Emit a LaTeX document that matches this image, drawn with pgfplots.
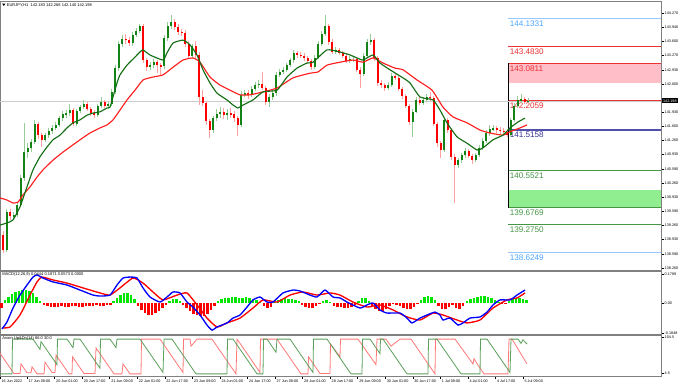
\documentclass[border=0pt]{standalone}
\usepackage{fontspec}
\setmainfont{Liberation Sans}
\usepackage{pgfplots}
\usepackage{pgfplotstable}
\pgfplotsset{compat=1.18}
\definecolor{mtgray}{RGB}{128,128,128}
\definecolor{bullbody}{RGB}{20,130,20}
\definecolor{bullwick}{RGB}{150,205,150}
\definecolor{bearbody}{RGB}{255,0,0}
\definecolor{bearwick}{RGB}{255,160,160}
\definecolor{magreen}{RGB}{20,110,20}
\definecolor{mared}{RGB}{255,30,30}
\definecolor{lvlbluet}{RGB}{77,166,255}
\definecolor{lvlbluel}{RGB}{150,200,255}
\definecolor{lvlred}{RGB}{235,50,50}
\definecolor{pinkband}{RGB}{255,190,200}
\definecolor{navyl}{RGB}{80,80,170}
\definecolor{navyt}{RGB}{50,50,150}
\definecolor{lvlgreen}{RGB}{70,150,70}
\definecolor{greenband}{RGB}{144,238,144}
\definecolor{aroongreen}{RGB}{90,160,90}
\definecolor{aroonred}{RGB}{255,120,120}
\definecolor{macdblue}{RGB}{0,0,255}
\definecolor{histgreen}{RGB}{0,230,0}
\newcommand{\tf}{\fontsize{2.8}{3.2}\selectfont}
\newcommand{\lf}{\fontsize{6.1}{7}\selectfont}

\pgfplotstableread{
x o h l c
3.2 139.04 139.12 138.61 138.68
6.8 138.68 139.66 138.64 139.58
10.2 139.58 139.64 139.40 139.48
13.8 139.48 139.58 139.40 139.51
17.2 139.51 139.80 139.46 139.74
20.8 139.74 140.45 139.70 140.38
24.2 140.38 141.68 140.30 140.99
27.8 140.99 141.20 140.85 141.09
31.2 141.09 141.30 141.00 141.23
34.8 141.23 141.75 141.18 141.65
38.2 141.65 141.70 141.30 141.39
41.8 141.39 141.45 141.10 141.28
45.2 141.28 141.45 141.22 141.39
48.8 141.39 141.55 141.32 141.49
52.2 141.49 141.62 141.42 141.56
55.8 141.56 141.70 141.50 141.63
59.2 141.63 141.85 141.58 141.79
62.8 141.79 141.95 141.72 141.89
66.2 141.89 141.98 141.80 141.91
69.8 141.91 142.12 141.85 141.98
73.2 141.98 142.02 141.60 141.65
76.8 141.65 142.00 141.60 141.96
80.2 141.96 142.10 141.90 142.05
83.8 142.05 142.22 142.00 142.12
87.2 142.12 142.18 141.95 142.01
90.8 142.01 142.06 141.85 141.91
94.2 141.91 141.98 141.80 141.86
97.8 141.86 142.12 141.82 142.08
101.2 142.08 142.30 142.02 142.17
104.8 142.17 142.22 142.02 142.08
108.2 142.08 142.18 142.00 142.12
111.8 142.12 142.48 142.08 142.41
115.2 142.41 143.05 142.36 142.97
118.8 142.97 143.62 142.90 143.54
122.2 143.54 143.75 143.48 143.66
125.8 143.66 143.78 143.55 143.63
129.2 143.63 143.70 143.48 143.56
132.8 143.56 143.82 143.50 143.75
136.2 143.75 143.92 143.70 143.85
139.8 143.85 144.02 143.80 143.96
143.2 143.96 144.00 143.10 143.16
146.8 143.16 143.22 142.90 142.99
150.2 142.99 143.12 142.92 143.04
153.8 143.04 143.18 142.98 143.11
157.2 143.11 143.15 142.85 143.04
160.8 143.04 143.10 142.80 143.02
164.2 143.02 143.75 142.96 143.68
167.8 143.68 144.05 143.62 143.96
171.2 143.96 144.22 143.90 144.06
174.8 144.06 144.12 143.88 143.94
178.2 143.94 144.00 143.76 143.82
181.8 143.82 143.90 143.74 143.80
185.2 143.80 143.86 143.48 143.54
188.8 143.54 143.60 143.20 143.26
192.2 143.26 143.55 143.20 143.49
195.8 143.49 143.62 143.22 143.28
199.2 143.28 143.34 142.10 142.29
202.8 142.29 142.45 142.08 142.15
206.2 142.15 142.20 141.62 141.72
209.8 141.72 141.78 141.32 141.51
213.2 141.51 141.85 141.45 141.79
216.8 141.79 142.00 141.72 141.89
220.2 141.89 142.05 141.80 141.94
223.8 141.94 142.02 141.78 141.86
227.2 141.86 142.00 141.75 141.91
230.8 141.91 142.02 141.80 141.89
234.2 141.89 141.95 141.70 141.79
237.8 141.79 141.85 141.38 141.63
241.2 141.63 142.42 141.58 142.34
244.8 142.34 142.45 142.28 142.38
248.2 142.38 142.45 142.25 142.36
251.8 142.36 142.55 142.30 142.48
255.2 142.48 142.65 142.42 142.57
258.8 142.57 142.68 142.50 142.60
262.2 142.60 142.88 142.45 142.50
265.8 142.50 142.56 142.10 142.17
269.2 142.17 142.35 142.05 142.29
272.8 142.29 142.45 142.22 142.38
276.2 142.38 142.88 142.32 142.81
279.8 142.81 142.95 142.75 142.88
283.2 142.88 143.00 142.82 142.93
286.8 142.93 143.10 142.88 143.04
290.2 143.04 143.22 143.00 143.16
293.8 143.16 143.40 143.10 143.33
297.2 143.33 143.38 143.22 143.28
300.8 143.28 143.35 143.20 143.26
304.2 143.26 143.32 143.15 143.21
307.8 143.21 143.26 143.08 143.14
311.2 143.14 143.18 142.92 142.99
314.8 142.99 143.28 142.95 143.21
318.2 143.21 143.60 143.18 143.54
321.8 143.54 143.85 143.50 143.77
325.2 143.77 144.22 143.72 143.96
328.8 143.96 144.02 143.52 143.59
332.2 143.59 143.65 143.30 143.35
335.8 143.35 143.46 143.30 143.40
339.2 143.40 143.45 143.28 143.33
342.8 143.33 143.38 143.20 143.26
346.2 143.26 143.30 143.08 143.14
349.8 143.14 143.25 143.10 143.19
353.2 143.19 143.26 143.12 143.19
356.8 143.19 143.22 142.88 142.93
360.2 142.93 143.00 142.50 142.83
363.8 142.83 143.32 142.78 143.26
367.2 143.26 143.66 143.20 143.59
370.8 143.59 143.78 143.52 143.63
374.2 143.63 143.68 143.15 143.21
377.8 143.21 143.26 142.55 142.62
381.2 142.62 142.70 142.50 142.57
384.8 142.57 142.62 142.42 142.50
388.2 142.50 142.64 142.45 142.57
391.8 142.57 142.85 142.52 142.78
395.2 142.78 142.84 142.68 142.74
398.8 142.74 142.78 142.42 142.48
402.2 142.48 142.52 142.25 142.31
405.8 142.31 142.36 142.02 142.08
409.2 142.08 142.12 141.62 141.70
412.8 141.70 142.00 141.35 141.94
416.2 141.94 142.28 141.90 142.22
419.8 142.22 142.30 142.10 142.15
423.2 142.15 142.28 142.10 142.22
426.8 142.22 142.35 142.18 142.29
430.2 142.29 142.40 142.20 142.27
433.8 142.27 142.32 141.60 141.65
437.2 141.65 141.70 141.12 141.20
440.8 141.20 141.25 140.85 141.04
444.2 141.04 141.80 141.00 141.75
447.8 141.75 141.80 141.45 141.51
451.2 141.51 141.55 140.80 140.87
454.8 140.87 140.95 139.79 140.69
458.2 140.69 140.86 140.62 140.80
461.8 140.80 140.98 140.74 140.92
465.2 140.92 141.08 140.86 141.02
468.8 141.02 141.06 140.84 140.90
472.2 140.90 140.95 140.72 140.80
475.8 140.80 140.98 140.75 140.92
479.2 140.92 141.15 140.88 141.09
482.8 141.09 141.32 141.05 141.25
486.2 141.25 141.50 141.20 141.44
489.8 141.44 141.62 141.38 141.53
493.2 141.53 141.62 141.48 141.56
496.8 141.56 141.60 141.45 141.51
500.2 141.51 141.58 141.42 141.49
503.8 141.49 141.55 141.40 141.47
507.2 141.47 141.52 141.34 141.39
510.8 141.39 141.80 141.35 141.75
514.2 141.75 142.15 141.70 142.08
517.8 142.08 142.32 142.02 142.22
521.2 142.22 142.36 142.15 142.24
524.8 142.24 142.30 142.12 142.18
528.2 142.18 142.27 142.14 142.20
}\candles

\pgfplotstableread{
x p
0 139.27
7 139.32
13 139.39
20 139.70
27 140.17
33 140.57
40 140.88
47 141.11
53 141.28
60 141.39
67 141.56
73 141.68
80 141.75
87 141.86
93 141.91
100 141.94
107 142.03
110 142.05
113 142.29
117 142.62
120 142.81
127 143.04
135 143.23
140 143.35
143 143.40
150 143.28
163 143.16
167 143.33
173 143.56
183 143.63
190 143.52
197 143.28
203 142.93
210 142.62
217 142.38
227 142.22
233 142.10
238 142.03
243 142.10
253 142.22
263 142.41
277 142.45
287 142.76
297 142.97
307 143.09
313 143.11
327 143.40
340 143.35
350 143.28
357 143.21
363 143.16
373 143.28
380 143.09
390 142.93
403 142.74
410 142.62
420 142.29
433 142.22
440 141.98
447 141.68
457 141.35
467 141.20
477 141.04
483 141.09
493 141.28
503 141.39
510 141.56
518 141.70
525 141.79
}\mafast

\pgfplotstableread{
x p
0 139.91
7 139.86
13 139.79
18 139.81
23 139.98
30 140.17
37 140.40
43 140.57
53 140.80
63 140.99
70 141.11
80 141.28
90 141.44
100 141.56
107 141.63
113 141.75
120 141.98
127 142.22
135 142.45
143 142.69
153 142.76
163 142.81
173 142.99
183 143.16
193 143.21
200 143.11
210 142.76
220 142.57
230 142.45
240 142.34
250 142.34
263 142.41
277 142.50
293 142.74
310 142.85
318 142.88
327 143.04
340 143.11
353 143.16
363 143.11
373 143.21
383 143.09
395 142.97
403 142.93
417 142.69
432 142.45
443 142.05
453 141.82
467 141.68
480 141.51
490 141.44
503 141.39
510 141.47
520 141.56
527 141.63
}\maslow

\pgfplotstableread{
x v
2 -0.160
7 -0.117
13 -0.031
20 0.049
27 0.111
33 0.160
37 0.173
43 0.154
53 0.130
67 0.111
80 0.080
93 0.049
100 0.043
110 0.049
117 0.111
123 0.154
130 0.160
137 0.154
143 0.093
150 0.037
160 0.006
167 0.037
173 0.068
180 0.062
187 0.006
193 -0.025
200 -0.074
207 -0.136
212 -0.167
217 -0.148
227 -0.123
233 -0.093
240 -0.074
247 -0.025
253 0.019
260 0.037
267 0.006
273 0.006
283 0.062
293 0.080
300 0.074
310 0.049
317 0.037
325 0.080
333 0.037
340 0.031
347 0.006
360 -0.031
367 -0.012
373 0.000
380 -0.043
387 -0.062
400 -0.062
407 -0.093
412 -0.123
420 -0.093
427 -0.074
435 -0.056
440 -0.074
443 -0.105
450 -0.093
458 -0.136
463 -0.123
470 -0.093
480 -0.086
487 -0.056
493 -0.012
500 0.019
510 0.019
517 0.049
525 0.080
}\macdmain

\pgfplotstableread{
x v
2 -0.154
10 -0.148
20 -0.074
30 0.049
37 0.130
42 0.160
53 0.142
67 0.123
83 0.093
100 0.062
110 0.049
120 0.093
133 0.154
143 0.123
153 0.068
163 0.019
177 0.049
187 0.062
197 -0.012
207 -0.093
217 -0.148
227 -0.123
240 -0.093
253 -0.031
263 0.019
277 0.006
290 0.049
303 0.068
317 0.049
330 0.062
340 0.049
353 0.006
367 -0.025
380 -0.012
393 -0.043
407 -0.086
420 -0.105
433 -0.062
443 -0.074
457 -0.105
467 -0.123
480 -0.105
493 -0.031
507 0.019
517 0.031
525 0.062
}\macdsig

\pgfplotstableread{
x v
5 0.019
8.5 0.037
12 0.056
15.5 0.068
19 0.074
22.5 0.080
26 0.080
29.5 0.074
33 0.062
36.5 0.037
40 0.012
113.5 0.012
117 0.031
120.5 0.049
124 0.062
127.5 0.062
131 0.049
134.5 0.025
169.5 0.012
173 0.025
176.5 0.025
180 0.012
218 0.012
221.5 0.025
225 0.031
228.5 0.031
232 0.037
235.5 0.037
239 0.031
242.5 0.031
246 0.037
249.5 0.031
253 0.025
256.5 0.019
260 0.006
274.5 0.006
278 0.019
281.5 0.025
285 0.031
288.5 0.025
292 0.025
295.5 0.019
299 0.012
323 0.012
326.5 0.019
330 0.006
358.5 0.012
362 0.031
365.5 0.031
369 0.012
421 0.019
424.5 0.037
428 0.043
431.5 0.037
435 0.019
467 0.012
470.5 0.025
474 0.031
477.5 0.037
481 0.043
484.5 0.043
488 0.037
491.5 0.031
495 0.019
498.5 0.006
509 0.012
512.5 0.025
516 0.031
519.5 0.031
523 0.025
526.5 0.019
}\histpos

\pgfplotstableread{
x v
1.5 -0.031
44 -0.012
47.5 -0.019
51 -0.025
54.5 -0.025
58 -0.025
61.5 -0.019
65 -0.025
68.5 -0.025
72 -0.019
75.5 -0.019
79 -0.025
82.5 -0.025
86 -0.019
89.5 -0.019
93 -0.019
96.5 -0.012
100 -0.019
103.5 -0.019
107 -0.012
110.5 -0.012
138 -0.019
141.5 -0.043
145 -0.062
148.5 -0.074
152 -0.074
155.5 -0.062
159 -0.049
162.5 -0.031
166 -0.012
183 -0.012
186.5 -0.031
190 -0.049
193.5 -0.068
197 -0.074
200.5 -0.080
204 -0.080
207.5 -0.068
211 -0.043
214.5 -0.019
264 -0.019
267.5 -0.031
271 -0.025
302 -0.012
305.5 -0.025
309 -0.031
312.5 -0.031
316 -0.019
319.5 -0.006
334 -0.019
337.5 -0.025
341 -0.025
344.5 -0.031
348 -0.031
351.5 -0.025
355 -0.012
372 -0.019
375.5 -0.037
379 -0.049
382.5 -0.049
386 -0.037
389.5 -0.019
393 -0.006
396.5 -0.012
400 -0.019
403.5 -0.031
407 -0.037
410.5 -0.037
414 -0.025
417.5 -0.006
438.5 -0.019
442 -0.037
445.5 -0.037
449 -0.025
452.5 -0.012
456 -0.031
459.5 -0.037
463 -0.019
502 -0.006
505.5 -0.006
}\histneg

\pgfplotstableread{
x v
0 2
12 2
12.5 100
33 100
40 71
41 93
57 28
57.5 100
67 100
73 76
74 100
80 100
100 18
100.5 100
110 100
116 76
117 100
140 100
163 6
164 100
172 100
196 2
227 2
227.5 100
233 100
257 2
263 2
263.5 100
267 100
276 63
277 100
290 100
313 6
313.5 100
327 100
351 2
362 2
362.5 100
370 100
380 59
380.5 100
383 100
407 2
428 2
428.5 100
437 100
461 2
480 2
480.5 100
487 100
510 6
511 100
518 100
521 88
523 98
527 86
}\aroonup

\pgfplotstableread{
x v
0 60
14 3
20 3
21 30
27 5
31 5
32 22
37 2
44 2
45 35
52 6
55 6
56 55
69 2
72 2
72.5 50
84 3
95 3
96 75
114 2
122 2
123 30
130 2
141 2
141.5 100
160 100
183 6
183.5 100
190 100
191 80
197 100
212 100
236 2
237 100
241 84
260 6
260.5 100
277 100
301 2
308 2
308.5 50
320 3
330 3
330.5 86
340 50
340.5 100
358 100
376 28
377 100
386 100
391 80
400 100
411 100
435 2
435.5 100
455 100
473 30
474 45
479 22
484 2
508 2
509 100
512 100
527 30
}\aroondn

\pgfplotsset{
  mtpanel/.style={
    scale only axis, width=495.75pt,
    xmin=0, xmax=661,
    axis line style={draw=mtgray, line width=0.75pt},
    ytick pos=right, yticklabel pos=right,
    tick align=outside, major tick length=2pt,
    tick style={draw=black, line width=0.35pt},
    yticklabel style={font=\tf, inner sep=0.6pt, text=black},
    clip mode=individual,
  },
  candle/.style={draw=none, no markers, forget plot,
    error bars/y dir=both, error bars/y explicit, error bars/error mark=none},
}

\begin{document}
\begin{tikzpicture}
\useasboundingbox (0pt,0pt) rectangle (510pt,-288.75pt);
\fill[white] (0pt,0pt) rectangle (510pt,-288.75pt);

% ---------------- main price panel ----------------
\begin{axis}[mtpanel,
  at={(0pt,-1.5pt)}, anchor=north west, height=201.375pt,
  ymin=138.198, ymax=144.529,
  xtick=\empty,
  ytick={144.27,143.94,143.60,143.27,142.93,142.60,141.93,141.60,141.26,140.93,140.59,140.26,139.93,139.59,139.26,138.93,138.59,138.26},
  yticklabels={144.270,143.940,143.600,143.270,142.930,142.600,141.930,141.600,141.260,140.930,140.590,140.260,139.930,139.590,139.260,138.930,138.590,138.260},
]
% zones
\addplot[fill=pinkband, draw=none, forget plot] coordinates {(508,142.627) (661,142.627) (661,143.0811) (508,143.0811)} -- cycle;
\addplot[fill=greenband, draw=none, forget plot] coordinates {(508,139.6769) (661,139.6769) (661,140.096) (508,140.096)} -- cycle;
% levels
\addplot[lvlbluel, line width=0.8pt, forget plot] coordinates {(508,144.1331) (661,144.1331)};
\addplot[lvlred, line width=0.8pt, forget plot] coordinates {(508,143.4830) (661,143.4830)};
\addplot[lvlred, line width=0.8pt, forget plot] coordinates {(508,143.0811) (661,143.0811)};
\addplot[lvlred, line width=0.8pt, forget plot] coordinates {(508,142.2059) (661,142.2059)};
\addplot[navyl, line width=1.1pt, forget plot] coordinates {(508,141.5158) (661,141.5158)};
\addplot[lvlgreen, line width=0.8pt, forget plot] coordinates {(508,140.5521) (661,140.5521)};
\addplot[lvlgreen, line width=0.8pt, forget plot] coordinates {(508,139.6769) (661,139.6769)};
\addplot[lvlgreen, line width=0.8pt, forget plot] coordinates {(508,139.2750) (661,139.2750)};
\addplot[lvlbluel, line width=0.8pt, forget plot] coordinates {(508,138.6249) (661,138.6249)};
\addplot[black, line width=0.7pt, forget plot] coordinates {(508,143.0811) (508,139.6769)};
% bid line
\addplot[gray!40, line width=0.5pt, forget plot] coordinates {(0,142.198) (661,142.198)};
% level labels
\begin{scope}[every node/.style={anchor=north west, inner sep=0pt, font=\lf, yshift=-1.4pt}]
\node[text=lvlbluet] at (axis cs:509.5,144.1331) {144.1331};
\node[text=lvlred] at (axis cs:509.5,143.4830) {143.4830};
\node[text=lvlred] at (axis cs:509.5,143.0811) {143.0811};
\node[text=lvlred] at (axis cs:509.5,142.2059) {142.2059};
\node[text=navyt] at (axis cs:509.5,141.5158) {141.5158};
\node[text=lvlgreen] at (axis cs:509.5,140.5521) {140.5521};
\node[text=lvlgreen] at (axis cs:509.5,139.6769) {139.6769};
\node[text=lvlgreen] at (axis cs:509.5,139.2750) {139.2750};
\node[text=lvlbluet] at (axis cs:509.5,138.6249) {138.6249};
\end{scope}
% candles: wicks
\addplot[candle, restrict expr to domain={\thisrow{c}-\thisrow{o}}{0:10},
  error bars/error bar style={draw=bullwick, line width=0.5pt}]
  table[x=x, y expr={(\thisrow{h}+\thisrow{l})/2}, y error expr={(\thisrow{h}-\thisrow{l})/2}] {\candles};
\addplot[candle, restrict expr to domain={\thisrow{c}-\thisrow{o}}{-10:-0.000001},
  error bars/error bar style={draw=bearwick, line width=0.5pt}]
  table[x=x, y expr={(\thisrow{h}+\thisrow{l})/2}, y error expr={(\thisrow{h}-\thisrow{l})/2}] {\candles};
% candles: bodies
\addplot[candle, restrict expr to domain={\thisrow{c}-\thisrow{o}}{0:10},
  error bars/error bar style={draw=bullbody, line width=1.3pt}]
  table[x=x, y expr={(\thisrow{o}+\thisrow{c})/2}, y error expr={abs(\thisrow{c}-\thisrow{o})/2}] {\candles};
\addplot[candle, restrict expr to domain={\thisrow{c}-\thisrow{o}}{-10:-0.000001},
  error bars/error bar style={draw=bearbody, line width=1.3pt}]
  table[x=x, y expr={(\thisrow{o}+\thisrow{c})/2}, y error expr={abs(\thisrow{c}-\thisrow{o})/2}] {\candles};
% moving averages
\addplot[mared, line width=0.85pt, smooth, tension=0.3, forget plot] table[x=x, y=p] {\maslow};
\addplot[magreen, line width=0.85pt, smooth, tension=0.3, forget plot] table[x=x, y=p] {\mafast};
% price tag
\node[anchor=west, fill=black, text=white, font=\tf, inner xsep=0.8pt, inner ysep=0.9pt, xshift=0.6pt] at (axis cs:661,142.198) {142.198};
\end{axis}

% ---------------- MACD panel ----------------
\begin{axis}[mtpanel,
  at={(0pt,-203.625pt)}, anchor=north west, height=46.875pt,
  ymin=-0.1912, ymax=0.1943,
  xtick=\empty,
  ytick={-0.1848,0,0.1789}, yticklabels={-0.1848,0.00,0.1789},
]
\addplot[ycomb, histgreen, line width=2.1pt, forget plot] table[x=x, y=v] {\histpos};
\addplot[ycomb, bearbody, line width=2.1pt, forget plot] table[x=x, y=v] {\histneg};
\addplot[bearbody, line width=1pt, smooth, tension=0.3, forget plot] table[x=x, y=v] {\macdsig};
\addplot[macdblue, line width=1pt, smooth, tension=0.3, forget plot] table[x=x, y=v] {\macdmain};
\end{axis}

% ---------------- Aroon panel ----------------
\begin{axis}[mtpanel,
  at={(0pt,-251.25pt)}, anchor=north west, height=30.75pt,
  ymin=-3.95, ymax=111.54,
  ytick={4.5,104.5}, yticklabels={4.5,104.5},
  xtick pos=bottom,
  xtick={0,27,54.6,82.2,109.7,137.3,164.8,192.4,219.9,247.5,275,302.6,330.1,357.7,385.2,412.8,440.3,467.9,495.4,523},
  xticklabels={16 Jun 2022,17 Jun 09:00,20 Jun 01:00,20 Jun 17:00,21 Jun 09:00,22 Jun 01:00,22 Jun 17:00,23 Jun 09:00,24 Jun 01:00,24 Jun 17:00,27 Jun 09:00,28 Jun 01:00,28 Jun 17:00,29 Jun 09:00,30 Jun 01:00,30 Jun 17:00,1 Jul 09:00,4 Jul 01:00,4 Jul 17:00,5 Jul 09:00},
  xticklabel style={font=\tf, anchor=north west, inner sep=0.6pt, xshift=0.4pt},
]
\addplot[aroonred, line width=0.6pt, forget plot] table[x=x, y=v] {\aroondn};
\addplot[aroongreen, line width=0.6pt, forget plot] table[x=x, y=v] {\aroonup};
\end{axis}

% headers
\fill[black] (1.6pt,-2.7pt) -- (4.1pt,-2.7pt) -- (2.85pt,-4.5pt) -- cycle;
\node[anchor=west, inner sep=0pt, font=\fontsize{3}{3.5}\selectfont] at (5pt,-3.7pt) {EURJPY,H1\ \ 142.183 142.268 142.140 142.198};
\node[anchor=west, inner sep=0pt, font=\fontsize{3}{3.5}\selectfont] at (1.5pt,-206.2pt) {MACD(12,26,9) 0.0444 0.1871 0.0573 0.0000};
\node[anchor=west, inner sep=0pt, font=\fontsize{3}{3.5}\selectfont] at (1.5pt,-254.2pt) {Aroon Up\&Dn(14) 86.0 30.0};
\end{tikzpicture}
\end{document}
